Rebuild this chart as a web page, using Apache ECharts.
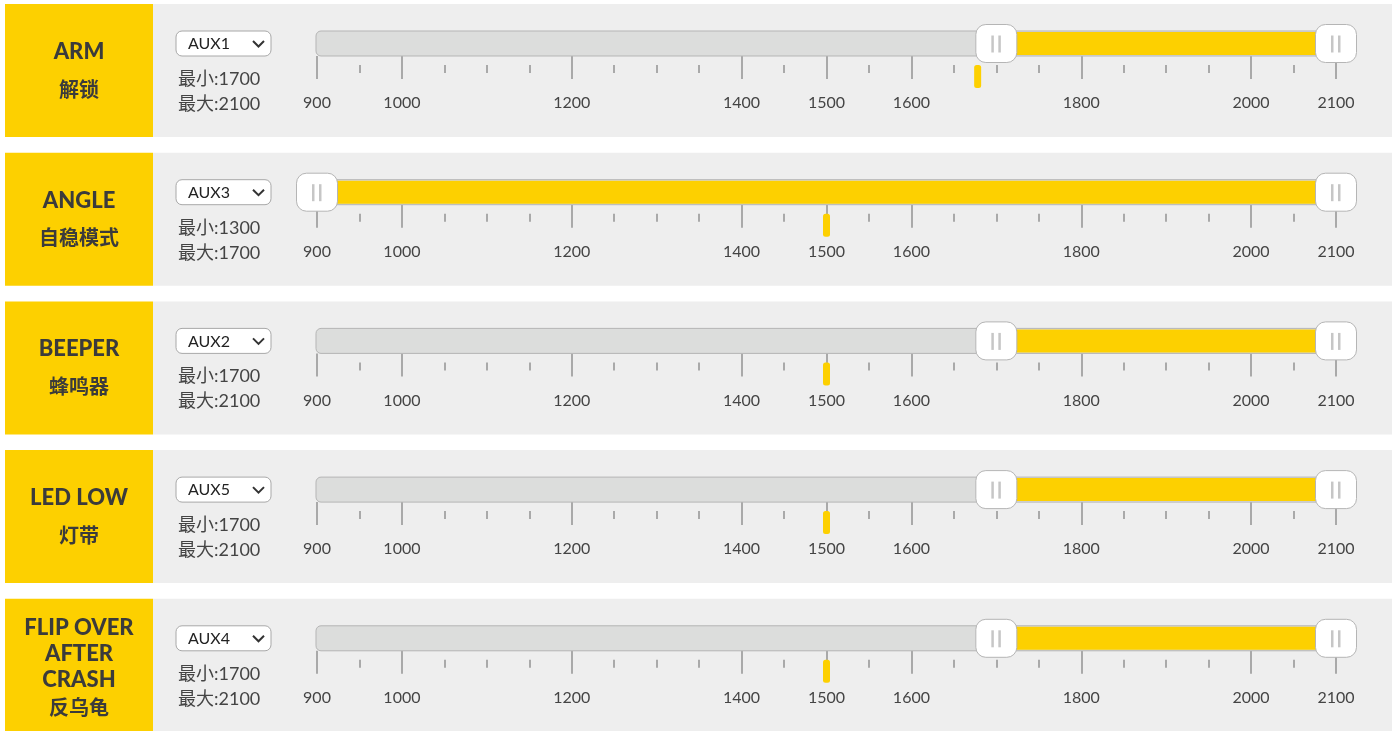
<!DOCTYPE html>
<html lang="zh">
<head>
<meta charset="UTF-8">
<title>Modes</title>
<script src="https://cdn.jsdelivr.net/npm/echarts@6/dist/echarts.min.js"></script>
<style>
html, body { margin: 0; padding: 0; background: #fff; }
#main { width: 1397px; height: 731px; }
</style>
</head>
<body>
<div id="main"></div>
<script>
var modeNames = ['ARM', 'ANGLE', 'BEEPER', 'LED LOW', 'FLIP OVER\nAFTER\nCRASH'];
var modeNamesCn = ['解锁', '自稳模式', '蜂鸣器', '灯带', '反乌龟'];
var channels = ['AUX1', 'AUX3', 'AUX2', 'AUX5', 'AUX4'];
var textMin = [1700, 1300, 1700, 1700, 1700];
var textMax = [2100, 1700, 2100, 2100, 2100];
var rangeFrom = [1700, 900, 1700, 1700, 1700];
var rangeTo = [2100, 2100, 2100, 2100, 2100];
var liveValue = [1678, 1500, 1500, 1500, 1500];
var majorTicks = [900, 1000, 1200, 1400, 1500, 1600, 1800, 2000, 2100];
var minorTicks = [950, 1050, 1100, 1150, 1250, 1300, 1350, 1450, 1550, 1650, 1700, 1750, 1850, 1900, 1950, 2050];

var YELLOW = '#fdd000';
var FONT = "Lato, 'Noto Sans CJK SC', sans-serif";
var CN_FONT = "'Noto Sans CJK SC', Lato, sans-serif";

function rowTop(i) { return 4 + i * 148.7; }

var grids = [], xAxes = [], yAxes = [], series = [], graphics = [];

modeNames.forEach(function (name, i) {
	var t = rowTop(i);
	grids.push({ left: 317, width: 1019, top: t + 27, height: 25, outerBoundsMode: 'none' });

	// major ticks + labels
	xAxes.push({
		gridIndex: i, type: 'value', min: majorTicks[0], max: majorTicks[majorTicks.length - 1],
		position: 'bottom', offset: 9,
		axisLine: { show: false }, splitLine: { show: false },
		axisTick: { customValues: majorTicks, length: 23, lineStyle: { color: '#a9a9a9', width: 2 } },
		axisLabel: { customValues: majorTicks, margin: 30, fontSize: 16, color: '#444', fontFamily: FONT,
			formatter: function (v) { return String(v); } }
	});
	// minor ticks
	xAxes.push({
		gridIndex: i, type: 'value', min: majorTicks[0], max: majorTicks[majorTicks.length - 1],
		position: 'bottom', offset: 9,
		axisLine: { show: false }, splitLine: { show: false },
		axisTick: { customValues: minorTicks, length: 8, lineStyle: { color: '#a9a9a9', width: 2 } },
		axisLabel: { show: false }
	});
	yAxes.push({ gridIndex: i, type: 'value', min: 0, max: 1, show: false });

	series.push({
		type: 'custom',
		xAxisIndex: i * 2,
		yAxisIndex: i,
		data: [[rangeFrom[i], rangeTo[i], liveValue[i]]],
		renderItem: function (params, api) {
			var lo = majorTicks[0], hi = majorTicks[majorTicks.length - 1];
			var x0 = api.coord([lo, 1])[0], x1 = api.coord([hi, 1])[0];
			var top = api.coord([lo, 1])[1], bottom = api.coord([lo, 0])[1];
			var xa = api.coord([api.value(0), 0])[0];
			var xb = api.coord([api.value(1), 0])[0];
			var xv = api.coord([api.value(2), 0])[0];
			var cy = (top + bottom) / 2;
			function handle(xc) {
				return {
					type: 'group',
					children: [
						{ type: 'rect', shape: { x: xc - 20.5, y: cy - 19, width: 41, height: 38, r: 10 },
							style: { fill: '#fff', stroke: '#b5b5b5', lineWidth: 1 } },
						{ type: 'rect', shape: { x: xc - 5, y: cy - 8, width: 2.5, height: 17 }, style: { fill: '#c6c6c6' } },
						{ type: 'rect', shape: { x: xc + 2, y: cy - 8, width: 2.5, height: 17 }, style: { fill: '#c6c6c6' } }
					]
				};
			}
			return {
				type: 'group',
				children: [
					{ type: 'rect', shape: { x: x0 - 1, y: top, width: x1 - x0 + 1, height: bottom - top, r: 5 },
						style: { fill: '#dcdddc', stroke: '#b5b5b5', lineWidth: 1 } },
					{ type: 'rect', shape: { x: xa, y: top + 1, width: xb - xa, height: bottom - top - 2 },
						style: { fill: YELLOW } },
					{ type: 'rect', shape: { x: xv - 3.5, y: bottom + 9, width: 7, height: 23, r: 2.5 },
						style: { fill: YELLOW } },
					handle(xa),
					handle(xb)
				]
			};
		}
	});

	var nLines = name.split('\n').length;
	graphics.push(
		{ type: 'rect', shape: { x: 153, y: t, width: 1239, height: 133 }, style: { fill: '#eeeeee' }, z: -10 },
		{ type: 'rect', shape: { x: 5, y: t, width: 148, height: 133 }, style: { fill: YELLOW }, z: -10 },
		{ type: 'text', x: 79, y: t + 48 + (nLines - 1) * 3.5, style: {
			text: name, fill: '#3b3b3b', font: '900 22px ' + FONT, lineHeight: 26,
			textAlign: 'center', textVerticalAlign: 'middle' } },
		{ type: 'text', x: 79, y: t + 85 + (nLines - 1) * 12, style: {
			text: modeNamesCn[i], fill: '#3b3b3b', font: 'bold 20px ' + CN_FONT,
			textAlign: 'center', textVerticalAlign: 'middle' } },
		{ type: 'rect', shape: { x: 176, y: t + 27, width: 95, height: 25, r: 6 },
			style: { fill: '#fff', stroke: '#a8a8a8', lineWidth: 1 } },
		{ type: 'text', x: 188, y: t + 40, style: {
			text: channels[i], fill: '#222', font: '16px ' + FONT, textVerticalAlign: 'middle' } },
		{ type: 'polyline', shape: { points: [[253, t + 37], [258.5, t + 42.5], [264, t + 37]] },
			style: { stroke: '#333', lineWidth: 2, fill: null } },
		{ type: 'text', x: 178, y: t + 75, style: {
			text: '最小:' + textMin[i], fill: '#444', font: '18px ' + FONT, textVerticalAlign: 'middle' } },
		{ type: 'text', x: 178, y: t + 100, style: {
			text: '最大:' + textMax[i], fill: '#444', font: '18px ' + FONT, textVerticalAlign: 'middle' } }
	);
});

var chart = echarts.init(document.getElementById('main'));
chart.setOption({
	animation: false,
	backgroundColor: '#fff',
	grid: grids,
	xAxis: xAxes,
	yAxis: yAxes,
	series: series,
	graphic: graphics
});
</script>
</body>
</html>
